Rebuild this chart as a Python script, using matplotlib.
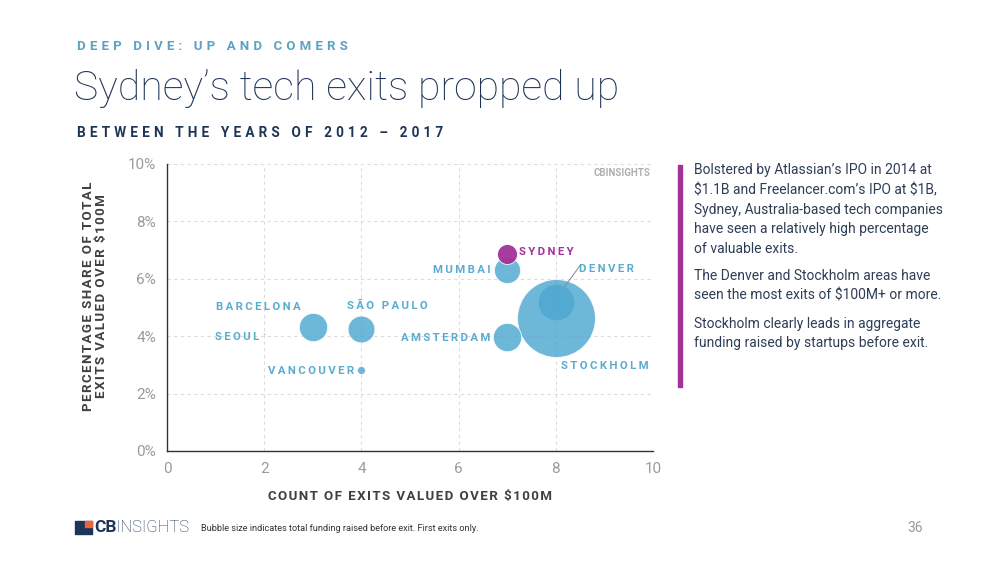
import matplotlib
matplotlib.use("Agg")
import matplotlib.pyplot as plt
from matplotlib.patches import Rectangle

plt.rcParams["font.family"] = ["Roboto", "DejaVu Sans"]

# data
cities = ["STOCKHOLM", "DENVER", "AMSTERDAM", "BARCELONA", "SÃO PAULO",
          "MUMBAI", "SYDNEY", "VANCOUVER", "SEOUL"]
exit_count = [8, 8, 7, 3, 4, 7, 7, 4, 2]
exit_share = [4.62, 5.2, 3.96, 4.33, 4.25, 6.3, 6.86, 2.81, 4.07]
funding_b = [7.6, 1.6, 1.0, 1.0, 0.9, 0.85, 0.5, 0.08, 0.005]

# label offsets (pixels) relative to each bubble, plus alignment
label_dx = [5, 23, -17, -54, 26, -17, 12, -7, -5]
label_dy = [-48, 33, -1, 20, 23, 0, 2, -1, -3]
label_ha = ["left", "left", "right", "center", "center", "right", "left", "right", "right"]

x_ticks = [0, 2, 4, 6, 8, 10]
y_ticks = [0, 2, 4, 6, 8, 10]

BLUE = "#4da7d0"
LABEL_BLUE = "#5aaccf"
PURPLE = "#a2319a"
NAVY = "#1d3557"


def spaced(s, sep="\u2009"):
    return sep.join(s)


fig = plt.figure(figsize=(10, 5.63), dpi=100)
ax = fig.add_axes([0.167, 0.199, 0.486, 0.510])

scale = 413
for i, city in enumerate(cities):
    color = PURPLE if city == "SYDNEY" else BLUE
    alpha = 0.95 if city == "SYDNEY" else 0.82
    lw = 0 if city == "DENVER" else 0.6
    ax.scatter(exit_count[i], exit_share[i], s=funding_b[i] * scale,
               color=color, alpha=alpha, edgecolor="white", linewidth=lw,
               zorder=3 + i)

for i, city in enumerate(cities):
    color = PURPLE if city == "SYDNEY" else LABEL_BLUE
    ax.annotate(spaced(city), (exit_count[i], exit_share[i]),
                xytext=(label_dx[i] * 0.72, label_dy[i] * 0.72),
                textcoords="offset points", ha=label_ha[i], va="center",
                fontsize=8.2, fontweight="bold", color=color, zorder=20)

# leader line for Denver
ax.annotate("", (exit_count[1] + 0.15, exit_share[1] + 0.45),
            xytext=(19 * 0.72, 26 * 0.72), textcoords="offset points",
            arrowprops=dict(arrowstyle="-", color="#7a8a99", lw=0.7), zorder=20)

ax.set_xlim(0, 10)
ax.set_ylim(0, 10)
ax.set_xticks(x_ticks)
ax.set_yticks(y_ticks)
ax.set_yticklabels([f"{v}%" for v in y_ticks])
ax.tick_params(length=0, labelsize=11, labelcolor="#9a9a9a", pad=8)
ax.grid(True, linestyle=(0, (3, 3)), color="#dcdcdc", linewidth=0.8)
ax.set_axisbelow(True)
for side in ["top", "right"]:
    ax.spines[side].set_visible(False)
for side in ["left", "bottom"]:
    ax.spines[side].set_color("#333333")
    ax.spines[side].set_linewidth(1.0)

ax.set_xlabel(spaced("COUNT OF EXITS VALUED OVER $100M", "\u200a"),
              fontsize=9.6, fontweight="bold", color="#404040", labelpad=10,
              parse_math=False)
ax.set_ylabel(spaced("PERCENTAGE SHARE OF TOTAL", "\u200a") + "\n" +
              spaced("EXITS VALUED OVER $100M", "\u200a"),
              fontsize=9.6, fontweight="bold", color="#404040",
              linespacing=1.0, parse_math=False)
ax.yaxis.set_label_coords(-0.121, 0.54)

# watermark
ax.text(0.995, 0.985, "CBINSIGHTS", transform=ax.transAxes, ha="right",
        va="top", fontsize=7, color="#b0b0b0", fontweight="bold")

# header
fig.text(0.077, 0.917, spaced("DEEP DIVE: UP AND COMERS", "\u2009\u200a"),
         fontsize=9.5, fontweight="bold", color="#5ba3c4", va="center")
fig.text(0.074, 0.842, "Sydney\u2019s tech exits propped up", fontsize=29.5,
         fontweight="light", color=NAVY, va="center")
fig.text(0.077, 0.763, spaced("BETWEEN THE YEARS OF 2012 \u2013 2017", "\u2009\u200a"),
         fontsize=9.8, fontweight="bold", color=NAVY, va="center")

# side commentary
fig.patches.append(Rectangle((0.678, 0.312), 0.004, 0.395,
                             transform=fig.transFigure, color=PURPLE))
side_text = [
    ("Bolstered by Atlassian\u2019s IPO in 2014 at\n$1.1B and Freelancer.com\u2019s IPO at $1B,\n"
     "Sydney, Australia-based tech companies\nhave seen a relatively high percentage\n"
     "of valuable exits.", 0.710),
    ("The Denver and Stockholm areas have\nseen the most exits of $100M+ or more.", 0.522),
    ("Stockholm clearly leads in aggregate\nfunding raised by startups before exit.", 0.437),
]
for txt, y in side_text:
    fig.text(0.694, y, txt, fontsize=10.0, color="#2e3e57", va="top",
             linespacing=1.5, parse_math=False)

# footer logo
fig.patches.append(Rectangle((0.075, 0.052), 0.017, 0.023,
                             transform=fig.transFigure, color=NAVY))
fig.patches.append(Rectangle((0.0845, 0.0645), 0.0075, 0.0105,
                             transform=fig.transFigure, color="#e8663d"))
fig.text(0.094, 0.063, "CB", fontsize=12.5, fontweight="bold", color=NAVY,
         va="center")
fig.text(0.1155, 0.063, "INSIGHTS", fontsize=12, fontweight="light", color=NAVY,
         va="center")
fig.text(0.201, 0.061, "Bubble size indicates total funding raised before exit. First exits only.",
         fontsize=6.6, color="#333333", va="center")
fig.text(0.923, 0.063, "36", fontsize=10, color="#999999", va="center", ha="right")

fig.savefig("out.png", dpi=100)
